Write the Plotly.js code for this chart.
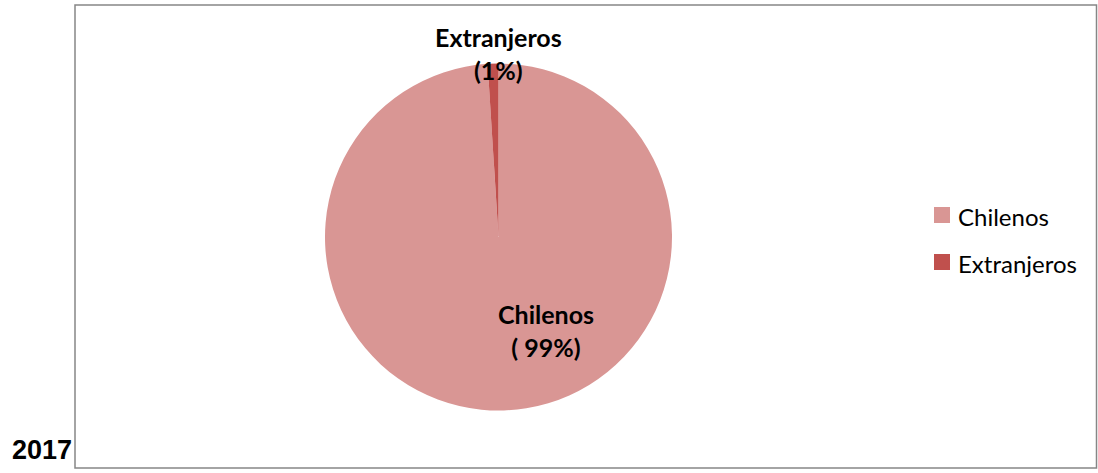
<!DOCTYPE html>
<html>
<head>
<meta charset="utf-8">
<script src="https://cdn.plot.ly/plotly-3.0.1.min.js"></script>
<style>html,body{margin:0;padding:0;background:#fff;}#chart{width:1098px;height:473px;}</style>
</head>
<body>
<div id="chart"></div>
<script>
const categories = ["Chilenos", "Extranjeros"];
const values = [99, 1];
const dataLabels = ["Chilenos<br>( 99%)", "Extranjeros<br>(1%)"];
const colors = ["#D99694", "#C0504D"];
const yearLabel = "2017";

const W = 1098, H = 473;
const cx = 498.5, cy = 237, r = 173.5;
const px = x => x / W;
const py = y => 1 - y / H;

const trace = {
  type: "pie",
  labels: categories,
  values: values,
  sort: false,
  direction: "clockwise",
  rotation: 0,
  textinfo: "none",
  hoverinfo: "label+percent",
  marker: { colors: colors, line: { width: 0 } },
  domain: { x: [px(cx - r), px(cx + r)], y: [py(cy + r), py(cy - r)] }
};

const fam = "Lato, 'Noto Sans', sans-serif";
const labelFont = { family: fam, size: 25, color: "#000" };

// custom legend built from categories / colors
const legendY = [215, 262];
const shapes = [{
  type: "rect", xref: "paper", yref: "paper",
  x0: px(75), x1: px(1096.5), y0: py(468), y1: py(5),
  line: { color: "#868686", width: 1.5 }, fillcolor: "rgba(0,0,0,0)"
}];
const annotations = [
  { xref: "paper", yref: "paper", x: px(546), y: py(330), text: "<b>" + dataLabels[0] + "</b>",
    showarrow: false, xanchor: "center", yanchor: "middle", font: labelFont, align: "center" },
  { xref: "paper", yref: "paper", x: px(498), y: py(54), text: "<b>" + dataLabels[1] + "</b>",
    showarrow: false, xanchor: "center", yanchor: "middle", font: labelFont, align: "center" },
  { xref: "paper", yref: "paper", x: px(74), y: py(467), text: "<b>" + yearLabel + "</b>",
    showarrow: false, xanchor: "right", yanchor: "bottom",
    font: { family: "'Liberation Sans', Arial, sans-serif", size: 27, color: "#000" } }
];
categories.forEach((c, i) => {
  shapes.push({
    type: "rect", xref: "paper", yref: "paper",
    x0: px(934), x1: px(950), y0: py(legendY[i] + 8), y1: py(legendY[i] - 8),
    line: { width: 0 }, fillcolor: colors[i]
  });
  annotations.push({
    xref: "paper", yref: "paper", x: px(956), y: py(legendY[i] + 1), text: c,
    showarrow: false, xanchor: "left", yanchor: "middle",
    font: { family: fam, size: 24, color: "#000" }
  });
});

const layout = {
  width: W, height: H,
  margin: { l: 0, r: 0, t: 0, b: 0 },
  paper_bgcolor: "#fff",
  showlegend: false,
  shapes: shapes,
  annotations: annotations
};

Plotly.newPlot("chart", [trace], layout, { displayModeBar: false, staticPlot: true });
</script>
</body>
</html>
